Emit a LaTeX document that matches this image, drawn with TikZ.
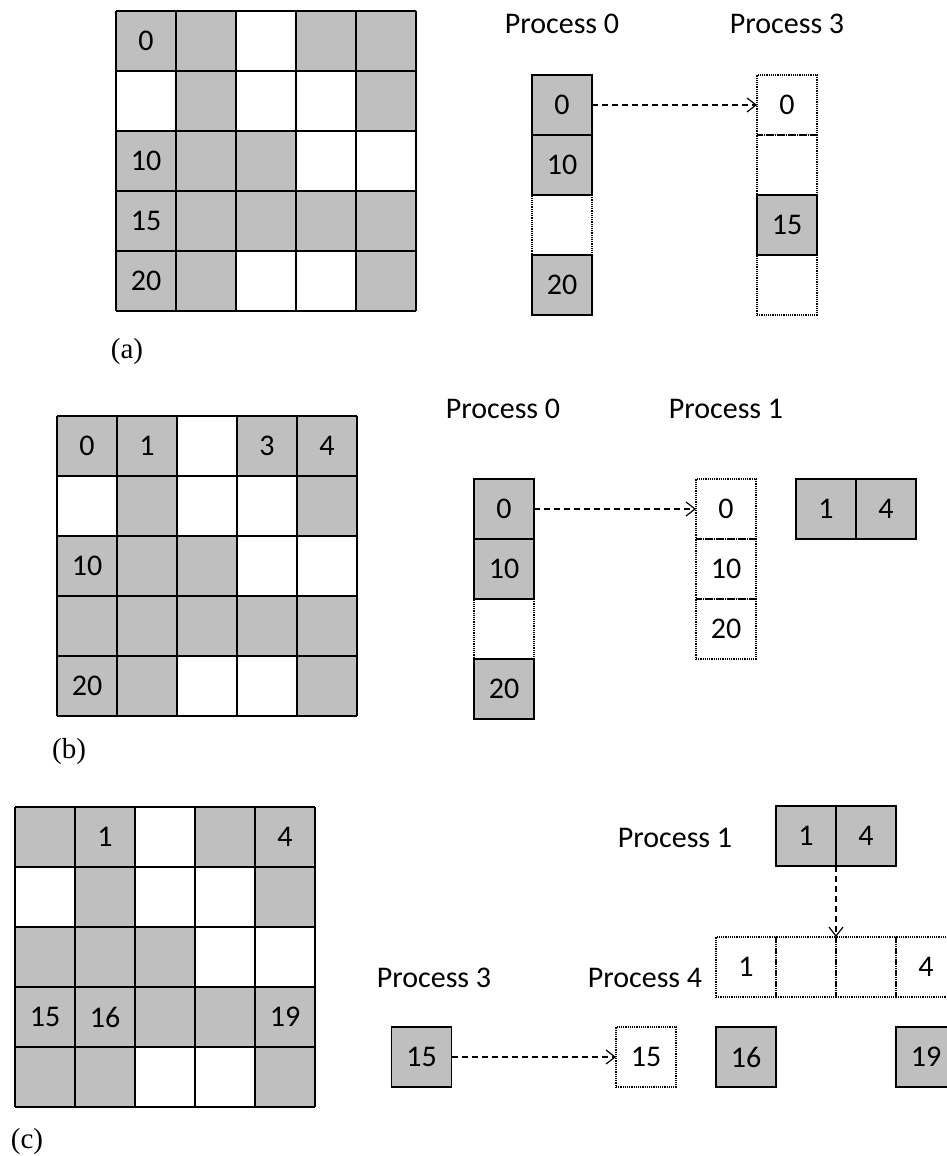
\documentclass[tikz,border=0pt]{standalone}
\usepackage{fontspec}
\setmainfont{Carlito}
\newfontfamily\capfont{Liberation Serif}
\usetikzlibrary{arrows.meta,positioning}
\definecolor{cellgray}{HTML}{BFBFBF}
\begin{document}
\begin{tikzpicture}[x=1pt,y=-1pt,font=\fontsize{30}{34}\selectfont,full/.style={draw,line width=1.2pt,fill=cellgray,minimum width=60pt,minimum height=60pt,inner sep=0pt,outer sep=0pt},hole/.style={draw,dash pattern=on 1.2pt off 1pt,line width=1.1pt,minimum width=60pt,minimum height=60pt,inner sep=0pt,outer sep=0pt},proc/.style={anchor=base},caplabel/.style={font=\capfont\fontsize{29}{32}\selectfont},arr/.style={line width=1.2pt,dash pattern=on 6pt off 4pt,-{Straight Barb[length=9pt,width=14pt]}}]
\fill[white] (0,0) rectangle (947,1156);\useasboundingbox (0,0) rectangle (947,1156);
% the three 5x5 matrices
\foreach \ox/\oy in {116/11,57/416,15/807}{
  \foreach \c/\r in {0/0,1/0,3/0,4/0,1/1,4/1,0/2,1/2,2/2,0/3,1/3,2/3,3/3,4/3,0/4,1/4,4/4} \fill[cellgray] (\ox+60*\c,\oy+60*\r) rectangle ++(60,60);
  \foreach \i in {0,...,5}{\draw[line width=1.2pt] (\ox+60*\i,\oy) -- ++(0,300);\draw[line width=1.2pt] (\ox,\oy+60*\i) -- ++(300,0);}
}
\node (ga0) at (146,41){0};\node (ga10) at (146,161){10};\node (ga15) at (146,221){15};\node (ga20) at (146,281){20};
\node (gb0) at (87,446){0};\node (gb1) at (147,446){1};\node (gb3) at (267,446){3};\node (gb4) at (327,446){4};\node (gb10) at (87,566){10};\node (gb20) at (87,686){20};
\node (gc1) at (105,837){1};\node (gc4) at (285,837){4};\node (gc15) at (45,1017){15};\node (gc16) at (105,1017){16};\node (gc19) at (285,1017){19};
\node[caplabel] (la) at (127,352){(a)};\node[caplabel] (lb) at (69,752){(b)};\node[caplabel] (lc) at (27,1142){(c)};
% (a)
\node[proc] (pa0) at (562,34){Process 0};\node[proc] (pa3) at (787,34){Process 3};
\node[full] (a00) at (562,105){0};\node[full,below=0pt of a00] (a01){10};\node[hole,below=0pt of a01] (a02){};\node[full,below=0pt of a02] (a03){20};
\node[hole] (a30) at (787,105){0};\node[hole,below=0pt of a30] (a31){};\node[full,below=0pt of a31] (a32){15};\node[hole,below=0pt of a32] (a33){};
\draw[arr] (a00) -- (a30);
% (b)
\node[proc] (pb0) at (503,418){Process 0};\node[proc] (pb1) at (726,418){Process 1};
\node[full] (b00) at (504,509){0};\node[full,below=0pt of b00] (b01){10};\node[hole,below=0pt of b01] (b02){};\node[full,below=0pt of b02] (b03){20};
\node[hole] (b10) at (726,509){0};\node[hole,below=0pt of b10] (b11){10};\node[hole,below=0pt of b11] (b12){20};
\node[full] (b1l) at (826,509){1};\node[full,right=0pt of b1l] (b1r){4};
\draw[arr] (b00) -- (b10);
% (c)
\node[proc] (pc1) at (675,847){Process 1};\node[full] (c1l) at (806,836){1};\node[full,right=0pt of c1l] (c1r){4};
\node[hole] (c40) at (746,967){1};\node[hole,right=0pt of c40] (c41){};\node[hole,right=0pt of c41] (c42){};\node[hole,right=0pt of c42] (c43){4};
\node[proc] (pc4) at (645,987){Process 4};\node[proc] (pc3) at (434,987){Process 3};
\node[full] (c3) at (421.5,1057){15};\node[hole] (c4) at (646,1057){15};\node[full] (c16) at (746,1057){16};\node[full] (c19) at (926,1057){19};
\draw[arr] (c3) -- (c4);\draw[arr] (c1l.south east) -- (c41.north east);
\end{tikzpicture}
\end{document}
